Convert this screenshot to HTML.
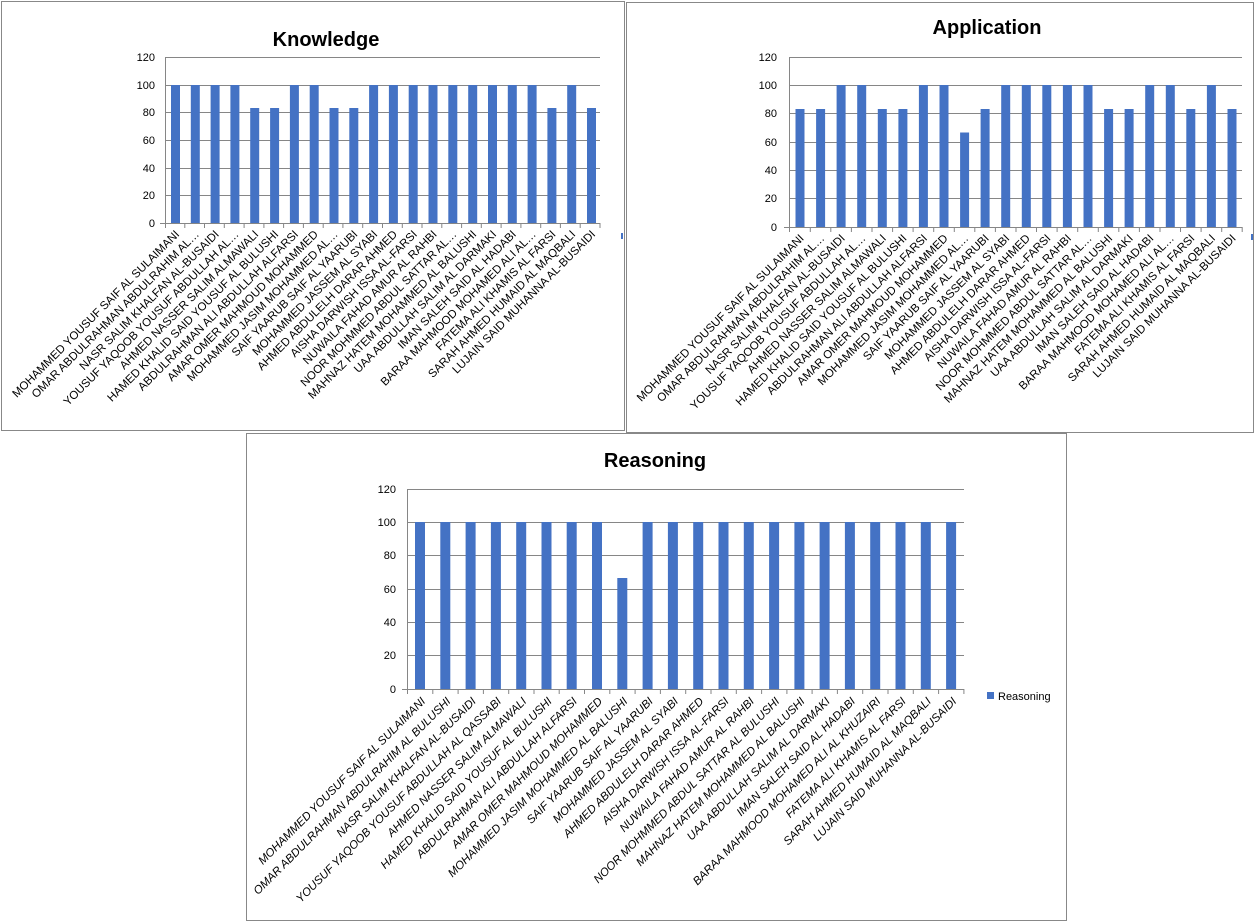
<!DOCTYPE html>
<html><head><meta charset="utf-8"><style>
html,body{margin:0;padding:0;background:#fff;}
svg{display:block;font-family:"Liberation Sans",sans-serif;}
.lb{font-size:11.5px;fill:#000;}
.yl{font-size:11px;fill:#000;}
.g{stroke:#868686;stroke-width:1;fill:none;}
.b{fill:#4472C4;}
.t{font-size:20px;font-weight:bold;fill:#000;}
</style></head><body>
<svg width="1257" height="924" viewBox="0 0 1257 924">
<rect x="1.5" y="1.5" width="623" height="429" fill="none" stroke="#888"/>
<rect x="626.5" y="2.5" width="627" height="430" fill="none" stroke="#888"/>
<rect x="246.5" y="433.5" width="820" height="487" fill="none" stroke="#888"/>

<!-- KNOWLEDGE -->
<text class="t" x="326" y="46" text-anchor="middle">Knowledge</text>
<g class="g">
<line x1="165" y1="57.5" x2="600" y2="57.5"/><line x1="165" y1="85.5" x2="600" y2="85.5"/><line x1="165" y1="112.5" x2="600" y2="112.5"/><line x1="165" y1="140.5" x2="600" y2="140.5"/><line x1="165" y1="168.5" x2="600" y2="168.5"/><line x1="165" y1="195.5" x2="600" y2="195.5"/><line x1="160" y1="223.5" x2="600" y2="223.5"/>
<line x1="165.5" y1="57" x2="165.5" y2="228"/>
<path d="M184.8 223v5M204.5 223v5M224.3 223v5M244.1 223v5M263.9 223v5M283.6 223v5M303.4 223v5M323.2 223v5M342.9 223v5M362.7 223v5M382.5 223v5M402.3 223v5M422 223v5M441.8 223v5M461.6 223v5M481.3 223v5M501.1 223v5M520.9 223v5M540.7 223v5M560.4 223v5M580.2 223v5M600 223v5"/>
</g>
<g class="yl" text-anchor="end">
<text x="155" y="61">120</text><text x="155" y="89">100</text><text x="155" y="116">80</text><text x="155" y="144">60</text><text x="155" y="172">40</text><text x="155" y="199">20</text><text x="155" y="227">0</text>
</g>
<g class="b">
<rect x="171" y="85" width="9" height="138"/><rect x="190.8" y="85" width="9" height="138"/><rect x="210.6" y="85" width="9" height="138"/><rect x="230.4" y="85" width="9" height="138"/><rect x="250.2" y="108" width="9" height="115"/><rect x="270.1" y="108" width="9" height="115"/><rect x="289.9" y="85" width="9" height="138"/><rect x="309.7" y="85" width="9" height="138"/><rect x="329.5" y="108" width="9" height="115"/><rect x="349.3" y="108" width="9" height="115"/><rect x="369.1" y="85" width="9" height="138"/><rect x="388.9" y="85" width="9" height="138"/><rect x="408.7" y="85" width="9" height="138"/><rect x="428.5" y="85" width="9" height="138"/><rect x="448.3" y="85" width="9" height="138"/><rect x="468.2" y="85" width="9" height="138"/><rect x="488" y="85" width="9" height="138"/><rect x="507.8" y="85" width="9" height="138"/><rect x="527.6" y="85" width="9" height="138"/><rect x="547.4" y="108" width="9" height="115"/><rect x="567.2" y="85" width="9" height="138"/><rect x="587" y="108" width="9" height="115"/>
</g>
<rect x="621" y="233" width="2" height="6" fill="#4472C4"/>
<g class="lb" text-anchor="end">
<text transform="translate(180,235) rotate(-45)">MOHAMMED YOUSUF SAIF  AL SULAIMANI</text>
<text transform="translate(199.8,235) rotate(-45)">OMAR ABDULRAHMAN ABDULRAHIM AL…</text>
<text transform="translate(219.6,235) rotate(-45)">NASR SALIM KHALFAN AL-BUSAIDI</text>
<text transform="translate(239.4,235) rotate(-45)">YOUSUF YAQOOB YOUSUF ABDULLAH AL…</text>
<text transform="translate(259.2,235) rotate(-45)">AHMED NASSER SALIM ALMAWALI</text>
<text transform="translate(279.1,235) rotate(-45)">HAMED KHALID SAID YOUSUF AL BULUSHI</text>
<text transform="translate(298.9,235) rotate(-45)">ABDULRAHMAN ALI ABDULLAH  ALFARSI</text>
<text transform="translate(318.7,235) rotate(-45)">AMAR OMER MAHMOUD MOHAMMED</text>
<text transform="translate(338.5,235) rotate(-45)">MOHAMMED JASIM MOHAMMED AL…</text>
<text transform="translate(358.3,235) rotate(-45)">SAIF YAARUB SAIF AL YAARUBI</text>
<text transform="translate(378.1,235) rotate(-45)">MOHAMMED JASSEM AL SYABI</text>
<text transform="translate(397.9,235) rotate(-45)">AHMED ABDULELH DARAR AHMED</text>
<text transform="translate(417.7,235) rotate(-45)">AISHA DARWISH ISSA AL-FARSI</text>
<text transform="translate(437.5,235) rotate(-45)">NUWAILA FAHAD AMUR AL RAHBI</text>
<text transform="translate(457.3,235) rotate(-45)">NOOR MOHMMED  ABDUL SATTAR  AL…</text>
<text transform="translate(477.2,235) rotate(-45)">MAHNAZ HATEM MOHAMMED AL BALUSHI</text>
<text transform="translate(497,235) rotate(-45)">UAA ABDULLAH SALIM AL DARMAKI</text>
<text transform="translate(516.8,235) rotate(-45)">IMAN SALEH SAID AL HADABI</text>
<text transform="translate(536.6,235) rotate(-45)">BARAA MAHMOOD MOHAMED ALI AL…</text>
<text transform="translate(556.4,235) rotate(-45)">FATEMA ALI KHAMIS AL FARSI</text>
<text transform="translate(576.2,235) rotate(-45)">SARAH AHMED HUMAID AL MAQBALI</text>
<text transform="translate(596,235) rotate(-45)">LUJAIN SAID MUHANNA AL-BUSAIDI</text>
</g>

<!-- APPLICATION -->
<text class="t" x="987" y="34" text-anchor="middle">Application</text>
<g class="g">
<line x1="789" y1="57.5" x2="1242" y2="57.5"/><line x1="789" y1="85.5" x2="1242" y2="85.5"/><line x1="789" y1="113.5" x2="1242" y2="113.5"/><line x1="789" y1="142.5" x2="1242" y2="142.5"/><line x1="789" y1="170.5" x2="1242" y2="170.5"/><line x1="789" y1="198.5" x2="1242" y2="198.5"/><line x1="784" y1="227.5" x2="1242" y2="227.5"/>
<line x1="789.5" y1="57" x2="789.5" y2="232"/>
<path d="M810.3 227v5M830.8 227v5M851.4 227v5M872 227v5M892.6 227v5M913.1 227v5M933.7 227v5M954.3 227v5M974.8 227v5M995.4 227v5M1016 227v5M1036.5 227v5M1057.1 227v5M1077.7 227v5M1098.3 227v5M1118.8 227v5M1139.4 227v5M1160 227v5M1180.5 227v5M1201.1 227v5M1221.7 227v5M1242.2 227v5"/>
</g>
<g class="yl" text-anchor="end">
<text x="777" y="61">120</text><text x="777" y="89">100</text><text x="777" y="117">80</text><text x="777" y="146">60</text><text x="777" y="174">40</text><text x="777" y="202">20</text><text x="777" y="231">0</text>
</g>
<g class="b">
<rect x="795.5" y="109" width="9" height="118"/><rect x="816.1" y="109" width="9" height="118"/><rect x="836.6" y="85" width="9" height="142"/><rect x="857.2" y="85" width="9" height="142"/><rect x="877.8" y="109" width="9" height="118"/><rect x="898.4" y="109" width="9" height="118"/><rect x="918.9" y="85" width="9" height="142"/><rect x="939.5" y="85" width="9" height="142"/><rect x="960.1" y="132.5" width="9" height="94.5"/><rect x="980.6" y="109" width="9" height="118"/><rect x="1001.2" y="85" width="9" height="142"/><rect x="1021.8" y="85" width="9" height="142"/><rect x="1042.3" y="85" width="9" height="142"/><rect x="1062.9" y="85" width="9" height="142"/><rect x="1083.5" y="85" width="9" height="142"/><rect x="1104.1" y="109" width="9" height="118"/><rect x="1124.6" y="109" width="9" height="118"/><rect x="1145.2" y="85" width="9" height="142"/><rect x="1165.8" y="85" width="9" height="142"/><rect x="1186.3" y="109" width="9" height="118"/><rect x="1206.9" y="85" width="9" height="142"/><rect x="1227.5" y="109" width="9" height="118"/>
</g>
<rect x="1251" y="234" width="2" height="6" fill="#4472C4"/>
<g class="lb" text-anchor="end">
<text transform="translate(804.5,239) rotate(-45)">MOHAMMED YOUSUF SAIF  AL SULAIMANI</text>
<text transform="translate(825.1,239) rotate(-45)">OMAR ABDULRAHMAN ABDULRAHIM AL…</text>
<text transform="translate(845.6,239) rotate(-45)">NASR SALIM KHALFAN AL-BUSAIDI</text>
<text transform="translate(866.2,239) rotate(-45)">YOUSUF YAQOOB YOUSUF ABDULLAH AL…</text>
<text transform="translate(886.8,239) rotate(-45)">AHMED NASSER SALIM ALMAWALI</text>
<text transform="translate(907.4,239) rotate(-45)">HAMED KHALID SAID YOUSUF AL BULUSHI</text>
<text transform="translate(927.9,239) rotate(-45)">ABDULRAHMAN ALI ABDULLAH  ALFARSI</text>
<text transform="translate(948.5,239) rotate(-45)">AMAR OMER MAHMOUD MOHAMMED</text>
<text transform="translate(969.1,239) rotate(-45)">MOHAMMED JASIM MOHAMMED AL…</text>
<text transform="translate(989.6,239) rotate(-45)">SAIF YAARUB SAIF AL YAARUBI</text>
<text transform="translate(1010.2,239) rotate(-45)">MOHAMMED JASSEM AL SYABI</text>
<text transform="translate(1030.8,239) rotate(-45)">AHMED ABDULELH DARAR AHMED</text>
<text transform="translate(1051.3,239) rotate(-45)">AISHA DARWISH ISSA AL-FARSI</text>
<text transform="translate(1071.9,239) rotate(-45)">NUWAILA FAHAD AMUR AL RAHBI</text>
<text transform="translate(1092.5,239) rotate(-45)">NOOR MOHMMED  ABDUL SATTAR  AL…</text>
<text transform="translate(1113.1,239) rotate(-45)">MAHNAZ HATEM MOHAMMED AL BALUSHI</text>
<text transform="translate(1133.6,239) rotate(-45)">UAA ABDULLAH SALIM AL DARMAKI</text>
<text transform="translate(1154.2,239) rotate(-45)">IMAN SALEH SAID AL HADABI</text>
<text transform="translate(1174.8,239) rotate(-45)">BARAA MAHMOOD MOHAMED ALI AL…</text>
<text transform="translate(1195.3,239) rotate(-45)">FATEMA ALI KHAMIS AL FARSI</text>
<text transform="translate(1215.9,239) rotate(-45)">SARAH AHMED HUMAID AL MAQBALI</text>
<text transform="translate(1236.5,239) rotate(-45)">LUJAIN SAID MUHANNA AL-BUSAIDI</text>
</g>

<!-- REASONING -->
<text class="t" x="655" y="467" text-anchor="middle">Reasoning</text>
<g class="g">
<line x1="407.5" y1="489.5" x2="964" y2="489.5"/><line x1="407.5" y1="522.5" x2="964" y2="522.5"/><line x1="407.5" y1="555.5" x2="964" y2="555.5"/><line x1="407.5" y1="589.5" x2="964" y2="589.5"/><line x1="407.5" y1="622.5" x2="964" y2="622.5"/><line x1="407.5" y1="655.5" x2="964" y2="655.5"/><line x1="402" y1="689.5" x2="964" y2="689.5"/>
<line x1="407.5" y1="489" x2="407.5" y2="694"/>
<path d="M432.8 689v5M458.1 689v5M483.4 689v5M508.7 689v5M534 689v5M559.2 689v5M584.5 689v5M609.8 689v5M635.1 689v5M660.4 689v5M685.7 689v5M711 689v5M736.3 689v5M761.6 689v5M786.9 689v5M812.1 689v5M837.4 689v5M862.7 689v5M888 689v5M913.3 689v5M938.6 689v5M963.9 689v5"/>
</g>
<g class="yl" text-anchor="end">
<text x="396" y="493">120</text><text x="396" y="526">100</text><text x="396" y="559">80</text><text x="396" y="593">60</text><text x="396" y="626">40</text><text x="396" y="659">20</text><text x="396" y="693">0</text>
</g>
<g class="b">
<rect x="415" y="522" width="10" height="167"/><rect x="440.3" y="522" width="10" height="167"/><rect x="465.6" y="522" width="10" height="167"/><rect x="490.9" y="522" width="10" height="167"/><rect x="516.2" y="522" width="10" height="167"/><rect x="541.5" y="522" width="10" height="167"/><rect x="566.7" y="522" width="10" height="167"/><rect x="592" y="522" width="10" height="167"/><rect x="617.3" y="578" width="10" height="111"/><rect x="642.6" y="522" width="10" height="167"/><rect x="667.9" y="522" width="10" height="167"/><rect x="693.2" y="522" width="10" height="167"/><rect x="718.5" y="522" width="10" height="167"/><rect x="743.8" y="522" width="10" height="167"/><rect x="769.1" y="522" width="10" height="167"/><rect x="794.4" y="522" width="10" height="167"/><rect x="819.6" y="522" width="10" height="167"/><rect x="844.9" y="522" width="10" height="167"/><rect x="870.2" y="522" width="10" height="167"/><rect x="895.5" y="522" width="10" height="167"/><rect x="920.8" y="522" width="10" height="167"/><rect x="946.1" y="522" width="10" height="167"/>
</g>
<rect x="987" y="692" width="7" height="7" fill="#4472C4"/>
<text x="998" y="700" style="font-size:11px">Reasoning</text>
<g class="lb" text-anchor="end" font-style="italic">
<text transform="translate(426,702) rotate(-45)">MOHAMMED YOUSUF SAIF  AL SULAIMANI</text>
<text transform="translate(451.3,702) rotate(-45)">OMAR ABDULRAHMAN ABDULRAHIM AL BULUSHI</text>
<text transform="translate(476.6,702) rotate(-45)">NASR SALIM KHALFAN AL-BUSAIDI</text>
<text transform="translate(501.9,702) rotate(-45)">YOUSUF YAQOOB YOUSUF ABDULLAH AL QASSABI</text>
<text transform="translate(527.2,702) rotate(-45)">AHMED NASSER SALIM ALMAWALI</text>
<text transform="translate(552.5,702) rotate(-45)">HAMED KHALID SAID YOUSUF AL BULUSHI</text>
<text transform="translate(577.7,702) rotate(-45)">ABDULRAHMAN ALI ABDULLAH  ALFARSI</text>
<text transform="translate(603,702) rotate(-45)">AMAR OMER MAHMOUD MOHAMMED</text>
<text transform="translate(628.3,702) rotate(-45)">MOHAMMED JASIM MOHAMMED AL BALUSHI</text>
<text transform="translate(653.6,702) rotate(-45)">SAIF YAARUB SAIF AL YAARUBI</text>
<text transform="translate(678.9,702) rotate(-45)">MOHAMMED JASSEM AL SYABI</text>
<text transform="translate(704.2,702) rotate(-45)">AHMED ABDULELH DARAR AHMED</text>
<text transform="translate(729.5,702) rotate(-45)">AISHA DARWISH ISSA AL-FARSI</text>
<text transform="translate(754.8,702) rotate(-45)">NUWAILA FAHAD AMUR AL RAHBI</text>
<text transform="translate(780.1,702) rotate(-45)">NOOR MOHMMED  ABDUL SATTAR  AL BULUSHI</text>
<text transform="translate(805.4,702) rotate(-45)">MAHNAZ HATEM MOHAMMED AL BALUSHI</text>
<text transform="translate(830.6,702) rotate(-45)">UAA ABDULLAH SALIM AL DARMAKI</text>
<text transform="translate(855.9,702) rotate(-45)">IMAN SALEH SAID AL HADABI</text>
<text transform="translate(881.2,702) rotate(-45)">BARAA MAHMOOD MOHAMED ALI AL KHUZAIRI</text>
<text transform="translate(906.5,702) rotate(-45)">FATEMA ALI KHAMIS AL FARSI</text>
<text transform="translate(931.8,702) rotate(-45)">SARAH AHMED HUMAID AL MAQBALI</text>
<text transform="translate(957.1,702) rotate(-45)">LUJAIN SAID MUHANNA AL-BUSAIDI</text>
</g>
</svg>
</body></html>
